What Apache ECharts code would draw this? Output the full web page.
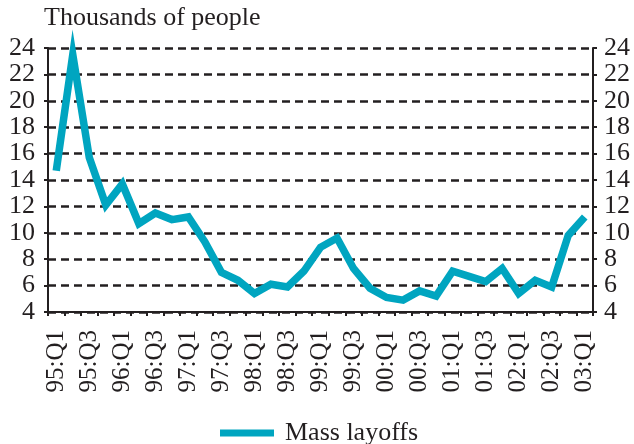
<!DOCTYPE html>
<html>
<head>
<meta charset="utf-8">
<script src="https://cdn.jsdelivr.net/npm/echarts@6/dist/echarts.min.js"></script>
<style>
html,body{margin:0;padding:0;background:#fff;}
#chart{width:634px;height:444px;}
</style>
</head>
<body>
<div id="chart"></div>
<script>
const quarters = ['95:Q1','95:Q2','95:Q3','95:Q4','96:Q1','96:Q2','96:Q3','96:Q4',
  '97:Q1','97:Q2','97:Q3','97:Q4','98:Q1','98:Q2','98:Q3','98:Q4',
  '99:Q1','99:Q2','99:Q3','99:Q4','00:Q1','00:Q2','00:Q3','00:Q4',
  '01:Q1','01:Q2','01:Q3','01:Q4','02:Q1','02:Q2','02:Q3','02:Q4','03:Q1'];
const massLayoffs = [14.7, 23.5, 15.7, 12.1, 13.7, 10.7, 11.5, 11.0,
  11.2, 9.3, 7.0, 6.4, 5.4, 6.1, 5.9, 7.1,
  8.9, 9.6, 7.3, 5.8, 5.1, 4.9, 5.6, 5.2,
  7.1, 6.7, 6.3, 7.3, 5.4, 6.4, 5.9, 9.8, 11.2];
const seriesName = 'Mass layoffs';
const unitTitle = 'Thousands of people';

const ink = '#231f20';
const teal = '#00a5c0';
const font = '"Liberation Serif", "DejaVu Serif", serif';

const chart = echarts.init(document.getElementById('chart'), null, {renderer: 'canvas'});
const yAxisBase = {
  type: 'value', min: 4, max: 24, interval: 2,
  axisLine: {show: true, lineStyle: {color: ink, width: 2}},
  axisTick: {show: true, length: 4, lineStyle: {color: ink, width: 2}},
  axisLabel: {color: ink, fontFamily: font, fontSize: 26, padding: [0, 0, 7, 0]}
};
chart.setOption({
  animation: false,
  backgroundColor: '#fff',
  title: {
    text: unitTitle, left: 44, top: 5, padding: 0,
    textStyle: {color: ink, fontFamily: font, fontSize: 26, fontWeight: 'normal'}
  },
  grid: {left: 48, right: 41, top: 48, bottom: 132, containLabel: false},
  legend: {
    data: [seriesName], left: 220, top: 420, padding: 0,
    icon: 'rect', itemWidth: 54, itemHeight: 7,
    textStyle: {color: ink, fontFamily: font, fontSize: 26, padding: [0, 0, 0, 6]}
  },
  xAxis: {
    type: 'category', data: quarters, boundaryGap: true,
    axisLine: {show: true, lineStyle: {color: ink, width: 2}},
    axisTick: {show: true, interval: 0, length: 4, lineStyle: {color: ink, width: 2}},
    axisLabel: {interval: 1, rotate: 90, margin: 18, color: ink, fontFamily: font, fontSize: 25},
    splitLine: {show: false}
  },
  yAxis: [
    Object.assign({}, yAxisBase, {
      position: 'left',
      axisLabel: Object.assign({}, yAxisBase.axisLabel, {margin: 13}),
      splitLine: {show: true, lineStyle: {color: ink, width: 2.5, type: [8, 5]}}
    }),
    Object.assign({}, yAxisBase, {
      position: 'right',
      axisLabel: Object.assign({}, yAxisBase.axisLabel, {margin: 11}),
      splitLine: {show: false}
    })
  ],
  series: [{
    name: seriesName, type: 'line', data: massLayoffs,
    showSymbol: false, symbol: 'none', clip: false,
    lineStyle: {color: teal, width: 7.5, join: 'miter', cap: 'butt'},
    itemStyle: {color: teal}
  }]
});
</script>
</body>
</html>
